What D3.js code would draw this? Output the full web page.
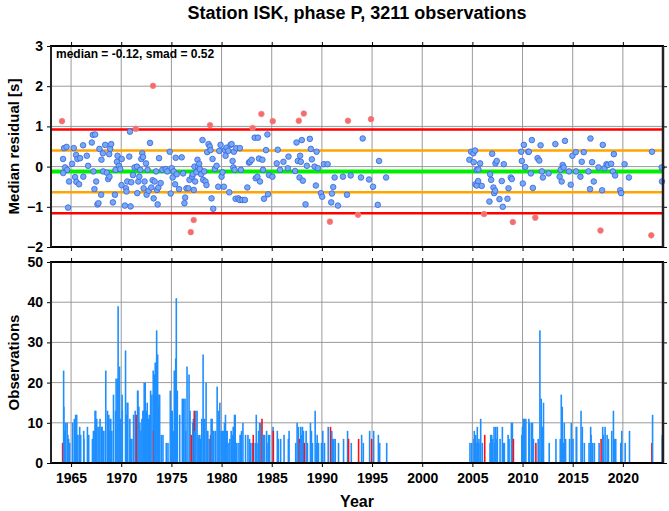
<!DOCTYPE html>
<html><head><meta charset="utf-8">
<script src="https://cdn.jsdelivr.net/npm/d3@7"></script>
<style>
html,body{margin:0;padding:0;background:#fff;}
svg{display:block;}
text{font-family:"Liberation Sans",Arial,Helvetica,sans-serif;font-weight:bold;fill:#000;}
</style></head>
<body>
<script>
// ---- data ----
const title = "Station ISK, phase P, 3211 observations";
const medianValue = -0.12;
const smadValue = 0.52;
const statsLabel = "median = -0.12, smad = 0.52";
const xTicks = [1965,1970,1975,1980,1985,1990,1995,2000,2005,2010,2015,2020];
const yTicksTop = [-2,-1,0,1,2,3];
const yTicksBottom = [0,10,20,30,40,50];

// bin time (decimal year), median residual (s), number of observations
const binYears = [
1964.10,1964.20,1964.22,1964.30,1964.40,1964.55,1964.62,1964.70,1964.80,1965.10,1965.27,1965.40,1965.50,1965.53,1965.63,1965.80,1965.90,
1966.20,1966.22,1966.57,1966.70,1967.07,1967.17,1967.40,1967.23,1967.33,1967.50,1967.63,1967.73,1967.83,1968.00,1968.03,1968.17,1968.20,
1968.40,1968.57,1968.70,1968.80,1968.90,1969.00,1968.83,1969.17,1969.37,1969.43,1969.57,1969.63,1969.77,1969.90,1970.03,1970.05,1970.37,
1970.47,1970.53,1970.60,1970.80,1970.87,1970.93,1971.00,1971.17,1971.33,1971.45,1971.57,1971.60,1971.70,1971.80,1971.90,1972.00,1972.10,
1972.17,1972.23,1972.33,1972.47,1972.53,1972.63,1972.73,1972.87,1973.00,1973.17,1973.13,1973.23,1973.33,1973.47,1973.57,1973.63,1973.70,
1973.77,1973.93,1974.10,1974.43,1974.60,1974.83,1974.93,1975.03,1975.13,1975.23,1975.37,1975.43,1975.53,1975.77,1976.03,1976.17,1976.30,
1976.37,1976.50,1976.70,1976.80,1976.93,1977.07,1977.13,1977.22,1977.23,1977.30,1977.37,1977.50,1977.60,1977.67,1977.77,1977.83,1977.97,
1978.10,1978.17,1978.27,1978.40,1978.50,1978.57,1978.70,1978.85,1978.83,1978.90,1979.00,1979.10,1979.17,1979.33,1979.50,1979.67,1979.77,
1979.90,1980.00,1980.10,1980.23,1980.33,1980.40,1980.50,1980.67,1980.77,1980.90,1981.00,1981.10,1981.17,1981.23,1981.30,1981.40,1981.47,
1981.67,1981.80,1981.83,1981.93,1982.07,1982.33,1982.57,1982.73,1982.83,1983.00,1983.10,1983.30,1983.40,1983.57,1983.63,1983.73,1983.83,
1983.97,1984.07,1984.13,1984.23,1984.43,1984.57,1984.63,1984.73,
1985.10,1985.07,1985.50,1985.60,1985.83,1986.17,1986.60,1986.67,1987.33,1987.47,1987.60,1987.70,1987.77,1987.83,1987.90,1988.00,1988.10,
1988.20,1988.37,1988.50,1988.80,1988.90,1989.00,1989.27,1989.40,1989.47,1989.60,1989.90,1990.03,1990.20,1990.57,1990.80,1990.93,1991.00,
1991.13,1991.27,1991.60,1992.10,1992.50,1992.60,1992.87,1993.60,1993.90,1994.07,1994.70,1994.90,1995.10,1995.57,1995.70,1996.40,
2004.70,2004.87,2005.10,2005.27,2005.13,2005.43,2005.60,2005.77,2005.30,2005.43,2005.57,2005.93,2006.17,2006.70,2006.77,2006.87,2006.97,
2007.10,2007.17,2007.27,2007.30,2007.43,2007.70,2007.93,2008.03,2008.13,2008.50,2008.60,2008.83,2008.93,2009.03,2009.87,2009.93,2010.03,
2010.13,2010.27,2010.57,2010.63,2010.83,2010.93,2011.03,2011.27,2011.50,2011.67,2011.80,2011.93,2012.03,2012.60,2013.27,2013.70,2013.80,
2013.90,2014.00,2014.10,2014.23,2014.63,2014.80,2014.97,2015.30,2015.33,2015.77,2015.90,2016.10,2016.57,2016.73,2016.77,2016.93,2017.10,
2017.57,2017.77,2017.93,2018.00,2018.17,2018.37,2018.50,2018.83,2019.00,2019.10,2019.23,2019.73,2019.83,2020.17,2020.60,2022.83,2022.90,
2023.87,2023.90];
const binMedians = [
1.13,0.19,-0.16,0.46,-0.02,0.49,-0.08,-1.02,-0.37,0.07,0.46,-0.26,0.29,-0.38,0.19,-0.44,0.21,
0.53,-0.25,0.27,0.02,0.60,0.79,0.80,-0.12,-0.56,-0.37,-0.94,-0.91,0.44,-0.70,0.17,0.33,-0.12,
0.54,-0.15,-0.31,0.31,0.44,0.56,-0.25,-0.89,-0.70,-0.08,0.12,0.27,0.02,-0.06,-0.46,0.19,-0.97,
-0.54,-0.62,-0.37,0.25,0.87,-0.99,-0.39,-0.21,-0.02,0.94,0.00,-0.66,-0.37,-0.25,-0.08,0.19,0.33,
0.24,-0.54,-0.37,0.08,-0.70,-0.08,-0.60,0.59,-0.52,2.01,-0.34,-0.79,-0.37,-0.12,-0.58,-0.94,-0.52,
0.21,-0.41,-0.08,-0.06,-0.12,0.37,-0.67,-0.04,-0.27,-0.12,-0.44,0.22,-0.19,-0.56,0.23,-0.17,-0.91,
-0.77,-0.54,-0.54,-0.33,-1.63,-0.25,-0.19,-1.33,-0.58,0.00,-0.37,-0.14,0.17,0.00,0.07,-0.06,-0.19,
0.66,-0.33,-0.12,-0.37,-0.46,0.36,0.56,1.03,0.50,0.41,-0.79,0.19,-1.05,-0.06,0.02,-0.50,0.39,
0.54,-0.25,-0.14,-0.50,0.41,0.27,0.47,0.39,-0.64,0.54,0.56,0.14,-0.02,0.37,-0.08,-0.80,0.46,
-0.79,-0.83,0.46,-0.08,-0.83,-0.83,-0.52,0.10,0.12,0.17,0.96,0.72,-0.29,-0.25,0.72,0.20,-0.37,
1.31,0.17,-0.08,-0.80,0.41,0.80,-0.69,-0.21,
1.13,-0.25,0.08,0.42,-0.08,0.12,-0.04,0.25,-0.11,0.60,0.14,1.14,-0.27,0.27,0.12,0.66,-0.35,
1.32,-0.94,0.02,0.69,0.44,0.18,0.00,-0.47,0.37,-0.04,-0.66,-0.75,0.06,0.06,-1.37,-0.89,-0.67,
-0.51,-0.27,-0.97,-0.25,-0.70,1.14,-0.22,-1.20,-0.27,0.70,-0.32,1.18,-0.50,-0.95,0.14,-0.27,
0.17,0.37,0.33,0.40,0.11,-0.08,-0.07,0.08,-0.44,-0.47,-0.36,-0.48,-1.18,-0.87,-0.19,-0.33,0.32,
-0.52,-0.66,-0.60,0.08,0.14,-0.81,-0.36,-1.00,0.06,-0.80,-0.54,-0.27,-0.31,-1.38,0.37,0.14,-0.42,
0.54,-0.01,0.37,0.37,-0.17,0.66,-0.53,-1.27,0.21,0.15,0.53,-0.12,-0.27,-0.17,0.56,-0.25,-0.08,
-0.37,0.04,-0.02,0.64,-0.12,-0.45,0.27,0.36,-0.12,-0.25,0.12,0.36,-0.12,-0.56,0.70,0.11,-0.37,
-0.02,-1.59,-0.59,0.54,-0.04,0.06,0.04,0.07,-0.12,0.31,-0.22,-0.59,-0.66,0.06,-0.27,-1.71,0.37,
-0.02,-0.37];
const binCounts = [
5,23,14,8,10,10,7,6,5,10,11,12,12,7,7,9,7,
8,6,9,7,6,8,13,8,13,11,9,9,11,9,9,8,8,
23,13,12,8,11,8,11,17,13,21,21,39,24,11,17,13,28,
12,15,15,11,6,6,6,12,13,12,18,18,14,10,8,11,13,
13,20,20,13,15,11,12,18,17,8,23,22,25,33,27,14,17,
17,7,7,5,5,18,13,13,8,23,26,41,18,12,16,16,16,
8,24,22,13,7,10,11,13,8,8,13,13,7,6,7,6,11,
27,11,11,20,8,8,6,7,6,11,11,8,8,8,19,13,15,
8,8,8,10,12,8,8,5,6,8,7,9,9,12,12,5,5,
5,7,7,8,10,7,7,6,5,5,7,5,12,5,8,10,10,
11,7,7,7,8,5,7,7,
8,9,8,6,6,7,6,8,5,10,9,6,5,9,7,9,8,
5,8,5,10,8,5,13,5,7,5,5,8,5,9,9,8,6,
6,6,5,6,8,6,5,6,7,5,8,6,8,7,5,5,
5,5,6,7,8,9,6,11,5,5,5,5,7,5,7,7,6,
9,5,9,6,9,6,9,5,5,7,6,10,10,6,7,9,11,
11,11,11,10,10,10,6,5,6,33,16,9,15,5,6,6,17,
14,5,10,6,6,10,6,9,9,13,9,5,5,9,7,5,5,
5,6,9,7,9,7,6,8,13,6,6,5,8,5,8,5,12,
7,6];

const bins = binYears.map((y,i)=>({year:y, med:binMedians[i], n:binCounts[i]}))
  .sort((a,b)=>a.year-b.year);

// ---- layout ----
const W = 669, H = 511;
const L = 51, R = 663;
const topY0 = 46, topY1 = 247;
const botY0 = 262, botY1 = 463;

const svg = d3.select("body").append("svg").attr("width",W).attr("height",H);

const x = d3.scaleLinear().domain([1963,2024]).range([L,R]);
const yTop = d3.scaleLinear().domain([-2,3]).range([topY1,topY0]);
const yBot = d3.scaleLinear().domain([0,50]).range([botY1,botY0]);

const hi1 = medianValue + smadValue, lo1 = medianValue - smadValue;
const hi2 = medianValue + 2*smadValue, lo2 = medianValue - 2*smadValue;
const isOut = d => d.med > hi2 || d.med < lo2;

function panel(y, yTicks, y0, y1){
  const g = svg.append("g");
  g.append("g").selectAll("line").data(xTicks).join("line")
    .attr("x1",d=>x(d)).attr("x2",d=>x(d)).attr("y1",y0).attr("y2",y1)
    .attr("stroke","#9a9a9a").attr("stroke-width",1);
  g.append("g").selectAll("line").data(yTicks).join("line")
    .attr("x1",L).attr("x2",R).attr("y1",d=>y(d)).attr("y2",d=>y(d))
    .attr("stroke","#9a9a9a").attr("stroke-width",1);
  return g;
}
function frame(y, yTicks, y0, y1, labels){
  const g = svg.append("g");
  g.append("g").attr("transform",`translate(0,${y1})`)
    .call(d3.axisBottom(x).tickValues(xTicks).tickSize(4).tickFormat(labels?d3.format("d"):""))
    .call(a=>a.select(".domain").remove())
    .call(a=>a.selectAll("line").attr("stroke","#000").attr("stroke-width",1))
    .call(a=>a.selectAll("text").attr("font-size",14).attr("dy","0.9em").attr("fill","#000")
      .style("font-family","'Liberation Sans',Arial,sans-serif").style("font-weight","bold"));
  g.append("g").attr("transform",`translate(0,${y0})`)
    .call(d3.axisTop(x).tickValues(xTicks).tickSize(4).tickFormat(""))
    .call(a=>a.select(".domain").remove())
    .call(a=>a.selectAll("line").attr("stroke","#000"));
  g.append("g").attr("transform",`translate(${L},0)`)
    .call(d3.axisLeft(y).tickValues(yTicks).tickSize(4).tickPadding(4).tickFormat(d3.format("d")))
    .call(a=>a.select(".domain").remove())
    .call(a=>a.selectAll("line").attr("stroke","#000"))
    .call(a=>a.selectAll("text").attr("font-size",14).attr("fill","#000")
      .style("font-family","'Liberation Sans',Arial,sans-serif").style("font-weight","bold"));
  g.append("g").attr("transform",`translate(${R},0)`)
    .call(d3.axisRight(y).tickValues(yTicks).tickSize(4).tickFormat(""))
    .call(a=>a.select(".domain").remove())
    .call(a=>a.selectAll("line").attr("stroke","#000"));
  g.append("line").attr("x1",L-1).attr("x2",R+1).attr("y1",y0).attr("y2",y0).attr("stroke","#000").attr("stroke-width",2);
  g.append("line").attr("x1",L-1).attr("x2",R+1).attr("y1",y1).attr("y2",y1).attr("stroke","#000").attr("stroke-width",2);
  g.append("line").attr("x1",L).attr("x2",L).attr("y1",y0).attr("y2",y1).attr("stroke","#222").attr("stroke-width",2);
  g.append("line").attr("x1",R).attr("x2",R).attr("y1",y0).attr("y2",y1).attr("stroke","#222").attr("stroke-width",2.5);
}

// ---- top panel ----
panel(yTop, yTicksTop, topY0, topY1);
const refLines = [
  {v:hi2, c:"#ff0000", w:2.5},{v:lo2, c:"#ff0000", w:2.5},
  {v:hi1, c:"#ffa500", w:2.5},{v:lo1, c:"#ffa500", w:2.5},
  {v:medianValue, c:"#00ee00", w:4}
];
svg.append("g").selectAll("line").data(refLines).join("line")
  .attr("x1",L).attr("x2",R).attr("y1",d=>yTop(d.v)).attr("y2",d=>yTop(d.v))
  .attr("stroke",d=>d.c).attr("stroke-width",d=>d.w);
svg.append("g").selectAll("circle").data(bins).join("circle")
  .attr("cx",d=>x(d.year)).attr("cy",d=>yTop(d.med)).attr("r",2.8)
  .attr("fill",d=>isOut(d)?"#f76b6b":"#74a9f4")
  .attr("stroke",d=>isOut(d)?"#f08080":"#3a5fe0").attr("stroke-width",0.8);
frame(yTop, yTicksTop, topY0, topY1, false);
svg.append("text").attr("x",56).attr("y",58).attr("font-size",12).text(statsLabel);

// ---- bottom panel ----
panel(yBot, yTicksBottom, botY0, botY1);
svg.append("g").selectAll("rect").data(bins).join("rect")
  .attr("x",d=>x(d.year)-0.2).attr("width",1.6)
  .attr("y",d=>yBot(d.n)).attr("height",d=>yBot(0)-yBot(d.n))
  .attr("fill",d=>isOut(d)?"#ff1010":"#1e8fff");
frame(yBot, yTicksBottom, botY0, botY1, true);

// ---- titles ----
svg.append("text").attr("x",(L+R)/2).attr("y",19).attr("text-anchor","middle").attr("font-size",18).text(title);
svg.append("text").attr("transform",`translate(19,${(topY0+topY1)/2}) rotate(-90)`).attr("text-anchor","middle").attr("font-size",15).text("Median residual [s]");
svg.append("text").attr("transform",`translate(19,${(botY0+botY1)/2}) rotate(-90)`).attr("text-anchor","middle").attr("font-size",15).text("Observations");
svg.append("text").attr("x",(L+R)/2).attr("y",507).attr("text-anchor","middle").attr("font-size",16).text("Year");
</script>
</body></html>
